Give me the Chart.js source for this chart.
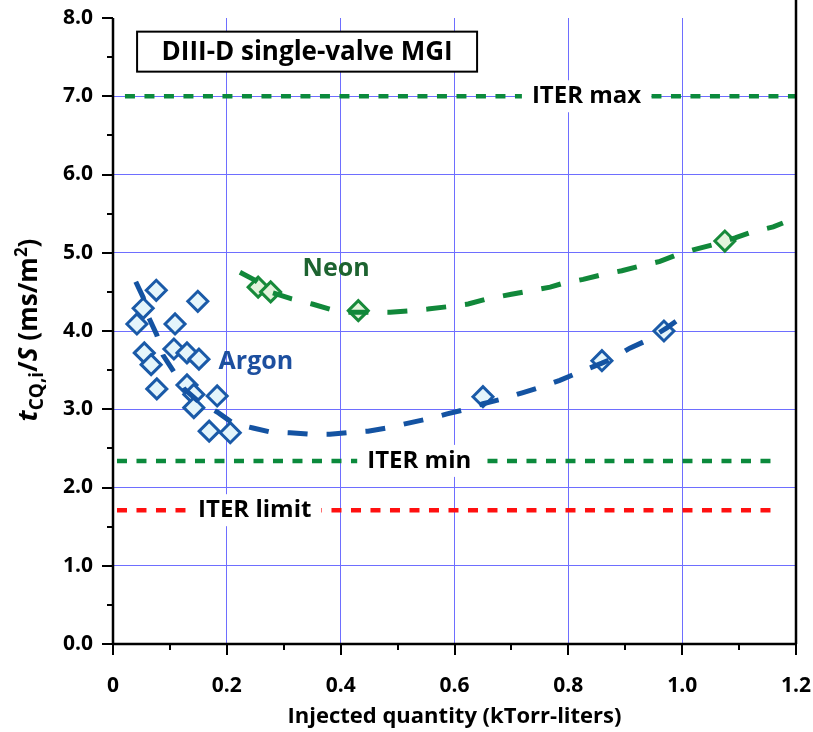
<!DOCTYPE html>
<html>
<head>
<meta charset="utf-8">
<script src="https://cdn.jsdelivr.net/npm/chart.js@4.4.1/dist/chart.umd.min.js"></script>
<style>
  html, body { margin: 0; padding: 0; background: #ffffff; }
  #wrap { position: relative; width: 813px; height: 732px; }
</style>
</head>
<body>
<div id="wrap"><canvas id="c" width="813" height="732"></canvas></div>
<script>
// ---------- data ----------
const argonX = [0.042, 0.053, 0.055, 0.067, 0.076, 0.077, 0.107, 0.109, 0.130, 0.130, 0.142, 0.142, 0.149, 0.151, 0.169, 0.183, 0.206, 0.650, 0.859, 0.968];
const argonY = [4.09, 4.29, 3.72, 3.57, 4.52, 3.26, 3.77, 4.09, 3.72, 3.31, 3.19, 3.02, 4.38, 3.64, 2.72, 3.17, 2.70, 3.16, 3.62, 4.00];

const neonX = [0.255, 0.277, 0.431, 1.075];
const neonY = [4.56, 4.50, 4.26, 5.15];

// fitted trend curves
const argonFitX = [0.040, 0.053, 0.063, 0.077, 0.088, 0.105, 0.125, 0.150, 0.183, 0.211, 0.246, 0.276, 0.311, 0.346, 0.381, 0.411, 0.448, 0.481, 0.517, 0.552, 0.587, 0.615, 0.650, 0.683, 0.719, 0.750, 0.785, 0.815, 0.859, 0.878, 0.908, 0.938, 0.973, 0.998];
const argonFitY = [4.63, 4.43, 4.17, 3.95, 3.69, 3.50, 3.26, 3.10, 2.965, 2.82, 2.76, 2.71, 2.70, 2.68, 2.68, 2.70, 2.72, 2.76, 2.82, 2.875, 2.94, 2.99, 3.07, 3.13, 3.21, 3.28, 3.37, 3.46, 3.59, 3.65, 3.78, 3.88, 4.04, 4.17];

const neonFitX = [0.223, 0.249, 0.262, 0.280, 0.314, 0.350, 0.381, 0.413, 0.446, 0.487, 0.518, 0.553, 0.587, 0.624, 0.657, 0.700, 0.730, 0.768, 0.791, 0.826, 0.859, 0.894, 0.926, 0.961, 0.993, 1.026, 1.058, 1.093, 1.124, 1.160, 1.177];
const neonFitY = [4.75, 4.65, 4.58, 4.49, 4.41, 4.345, 4.28, 4.24, 4.24, 4.24, 4.255, 4.28, 4.31, 4.345, 4.41, 4.47, 4.51, 4.56, 4.61, 4.66, 4.72, 4.77, 4.83, 4.89, 4.98, 5.05, 5.11, 5.19, 5.27, 5.33, 5.38];

// ITER reference levels
const iterMaxX = [0.021, 1.2];   const iterMaxY = [7.0, 7.0];
const iterMinX = [0.007, 1.163]; const iterMinY = [2.34, 2.34];
const iterLimX = [0.007, 1.163]; const iterLimY = [1.71, 1.71];

// axes
const xTickLabels = ['0', '0.2', '0.4', '0.6', '0.8', '1.0', '1.2'];
const yTickLabels = ['0.0', '1.0', '2.0', '3.0', '4.0', '5.0', '6.0', '7.0', '8.0'];

// text annotations (data coordinates)
const titleText = 'DIII-D single-valve MGI';
const titlePos = [0.341, 7.57];
const iterLabels = [
  { text: 'ITER max',   x: 0.832, y: 7.0 },
  { text: 'ITER min',   x: 0.538, y: 2.34 },
  { text: 'ITER limit', x: 0.249, y: 1.71 }
];
const seriesLabels = [
  { text: 'Neon',  x: 0.392, y: 4.80, color: '#1d6330' },
  { text: 'Argon', x: 0.251, y: 3.61, color: '#1d4f9f' }
];

// ---------- helpers ----------
const pts = (xs, ys) => xs.map((x, i) => ({ x: x, y: ys[i] }));
const FONT = "'Open Sans', 'Noto Sans', sans-serif";
const GRID = '#6e6eff';

const lineDs = (label, xs, ys, color, width, dash) => ({
  label, data: pts(xs, ys), showLine: true, pointRadius: 0, pointHoverRadius: 0,
  borderColor: color, borderWidth: width, borderDash: dash, fill: false, tension: 0,
  borderCapStyle: 'butt'
});

const overlay = {
  id: 'overlay',
  afterDatasetsDraw(chart) {
    const ctx = chart.ctx;
    const xs = chart.scales.x, ys = chart.scales.y;
    const a = chart.chartArea;
    ctx.save();

    // ITER labels with white background
    ctx.font = 'bold 24px ' + FONT;
    ctx.textBaseline = 'middle';
    ctx.textAlign = 'center';
    iterLabels.forEach(l => {
      const px = xs.getPixelForValue(l.x), py = ys.getPixelForValue(l.y);
      const w = ctx.measureText(l.text).width;
      ctx.fillStyle = '#ffffff';
      ctx.fillRect(px - w / 2 - 10, py - 16, w + 20, 32);
      ctx.fillStyle = '#000000';
      ctx.fillText(l.text, px, py);
    });

    // series labels
    ctx.font = 'bold 25px ' + FONT;
    seriesLabels.forEach(l => {
      ctx.fillStyle = l.color;
      ctx.fillText(l.text, xs.getPixelForValue(l.x), ys.getPixelForValue(l.y));
    });

    // title box
    ctx.font = 'bold 26px ' + FONT;
    const tx = xs.getPixelForValue(titlePos[0]), ty = ys.getPixelForValue(titlePos[1]);
    const bw = 340, bh = 40;
    ctx.fillStyle = '#ffffff';
    ctx.fillRect(tx - bw / 2, ty - bh / 2, bw, bh);
    ctx.lineWidth = 2;
    ctx.strokeStyle = '#000000';
    ctx.strokeRect(tx - bw / 2, ty - bh / 2, bw, bh);
    ctx.fillStyle = '#000000';
    ctx.fillText(titleText, tx, ty + 1);

    // axes lines
    ctx.strokeStyle = '#000000';
    ctx.lineWidth = 2.5;
    ctx.beginPath();
    ctx.moveTo(a.left, a.top); ctx.lineTo(a.left, a.bottom + 1);
    ctx.moveTo(a.left - 1, a.bottom); ctx.lineTo(a.right + 1, a.bottom);
    ctx.moveTo(a.right, 0); ctx.lineTo(a.right, a.bottom);
    ctx.stroke();

    // ticks
    ctx.lineWidth = 2;
    ctx.beginPath();
    for (let v = 0; v <= 8.0001; v += 0.5) {
      const py = Math.round(ys.getPixelForValue(v));
      const len = (Math.abs(v - Math.round(v)) < 1e-6) ? 11 : 6;
      ctx.moveTo(a.left, py); ctx.lineTo(a.left - len, py);
    }
    for (let i = 0; i <= 12; i++) {
      const v = i * 0.1;
      const px = Math.round(xs.getPixelForValue(v));
      const len = (i % 2 === 0) ? 11 : 6;
      ctx.moveTo(px, a.bottom); ctx.lineTo(px, a.bottom + len);
    }
    ctx.stroke();

    // y axis title: t_CQ,i / S (ms/m^2)
    const parts = [
      { t: 't', f: 'italic bold 27px ' + FONT, dy: 0 },
      { t: 'CQ,i', f: 'bold 19px ' + FONT, dy: 6 },
      { t: '/', f: 'bold 26px ' + FONT, dy: 0 },
      { t: 'S', f: 'italic bold 26px ' + FONT, dy: 0 },
      { t: ' (ms/m', f: 'bold 26px ' + FONT, dy: 0 },
      { t: '2', f: 'bold 17px ' + FONT, dy: -10 },
      { t: ')', f: 'bold 26px ' + FONT, dy: 0 }
    ];
    let total = 0;
    parts.forEach(p => { ctx.font = p.f; p.w = ctx.measureText(p.t).width; total += p.w; });
    ctx.translate(28, 330);
    ctx.rotate(-Math.PI / 2);
    ctx.textAlign = 'left';
    ctx.textBaseline = 'alphabetic';
    ctx.fillStyle = '#000000';
    let cx = -total / 2;
    parts.forEach(p => { ctx.font = p.f; ctx.fillText(p.t, cx, 9 + p.dy); cx += p.w; });

    ctx.restore();

    // x axis title
    ctx.save();
    ctx.font = 'bold 22px ' + FONT;
    ctx.fillStyle = '#000000';
    ctx.textAlign = 'center';
    ctx.textBaseline = 'middle';
    ctx.fillText('Injected quantity (kTorr-liters)', (a.left + a.right) / 2, 717);
    ctx.restore();
  }
};

new Chart(document.getElementById('c'), {
  type: 'scatter',
  data: {
    datasets: [
      lineDs('ITER max', iterMaxX, iterMaxY, '#0b8a3c', 4.5, [10, 9.5]),
      lineDs('ITER min', iterMinX, iterMinY, '#0b8a3c', 4.5, [10, 9.5]),
      lineDs('ITER limit', iterLimX, iterLimY, '#ff1010', 4.5, [10, 9.5]),
      lineDs('Argon fit', argonFitX, argonFitY, '#1453a2', 5, [20, 19]),
      lineDs('Neon fit', neonFitX, neonFitY, '#11883a', 5, [20, 19]),
      {
        label: 'Argon', data: pts(argonX, argonY), pointStyle: 'rectRot',
        pointRadius: 10, pointHoverRadius: 10, borderWidth: 3,
        pointBackgroundColor: '#e4f5fb', pointBorderColor: '#1a5aa8', showLine: false
      },
      {
        label: 'Neon', data: pts(neonX, neonY), pointStyle: 'rectRot',
        pointRadius: 10, pointHoverRadius: 10, borderWidth: 3,
        pointBackgroundColor: '#e3f3dc', pointBorderColor: '#178a3a', showLine: false
      }
    ]
  },
  options: {
    responsive: false,
    devicePixelRatio: 1,
    animation: false,
    events: [],
    layout: { padding: { left: 0, top: 18, right: 17, bottom: 0 } },
    plugins: { legend: { display: false }, tooltip: { enabled: false }, title: { display: false } },
    scales: {
      x: {
        type: 'linear', min: 0, max: 1.2,
        afterFit: s => { s.height = 88; s.paddingLeft = 0; s.paddingRight = 0; },
        ticks: {
          stepSize: 0.2, padding: 29, color: '#000000',
          font: { family: FONT, size: 21, weight: 'bold' },
          callback: (v, i) => xTickLabels[i], maxRotation: 0
        },
        grid: { color: c => (c.tick && (c.tick.value < 1e-6 || c.tick.value > 1.19)) ? 'rgba(0,0,0,0)' : GRID, lineWidth: 1, drawTicks: false },
        border: { display: false }
      },
      y: {
        type: 'linear', min: 0, max: 8,
        afterFit: s => { s.width = 113; s.paddingTop = 0; s.paddingBottom = 0; },
        ticks: {
          stepSize: 1, padding: 20, color: '#000000',
          font: { family: FONT, size: 21, weight: 'bold' },
          callback: (v, i) => yTickLabels[i]
        },
        grid: { color: c => (c.tick && (c.tick.value < 1e-6 || c.tick.value > 7.99)) ? 'rgba(0,0,0,0)' : GRID, lineWidth: 1, drawTicks: false },
        border: { display: false }
      }
    }
  },
  plugins: [overlay]
});
</script>
</body>
</html>
